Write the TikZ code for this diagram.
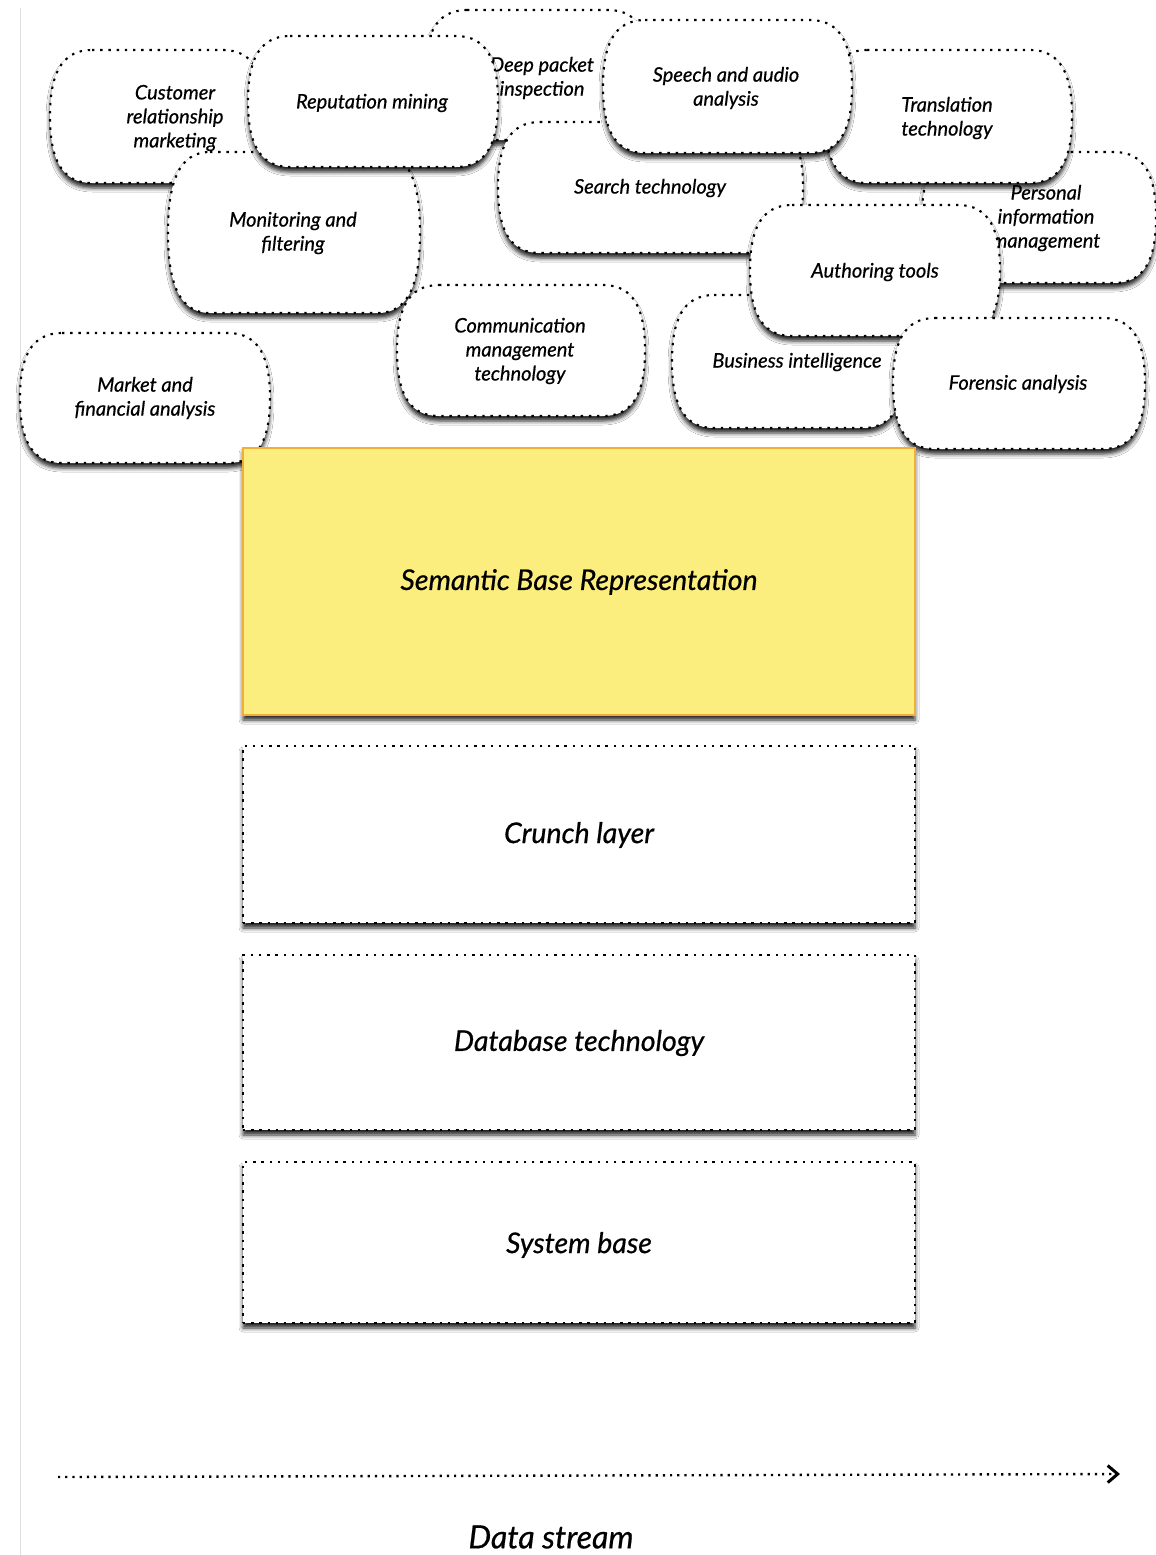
\documentclass[tikz,border=0pt]{standalone}
\usepackage{fontspec}
\setmainfont{Lato}
\newfontfamily\lblfont{Lato}[FakeBold=0.6]
\usetikzlibrary{shadows.blur,arrows.meta}
\definecolor{semfill}{HTML}{FBEE7E}
\definecolor{semdraw}{HTML}{F2AE35}
\tikzset{
  dotline/.style={draw=black, line width=2.1pt, dash pattern=on 2.4pt off 5.8pt},
  softshadow/.style={blur shadow={shadow xshift=0pt, shadow yshift=-5pt, shadow blur radius=4pt, shadow opacity=85}},
  cloudline/.style={dotline, fill=white, softshadow},
  cloudtext/.style={font=\lblfont\itshape\fontsize{20}{24}\selectfont, align=center, inner sep=0pt},
  layerbox/.style={dotline, fill=white, softshadow, minimum width=672pt, inner sep=0pt},
  layertext/.style={font=\lblfont\itshape\fontsize{28.5}{32}\selectfont, inner sep=0pt},
  semanticbox/.style={draw=semdraw, line width=1.5pt, fill=semfill, softshadow, minimum width=672pt, minimum height=267pt, inner sep=0pt}
}
\newcommand\cloudbox[8]{%
  \path[cloudline] ({#2+42},#3) -- ({#4-42},#3)
    .. controls ({#4-10},#3) and (#4,{#3+0.2*(#5-#3)}) .. (#4,{(#3+#5)/2})
    .. controls (#4,{#5-0.2*(#5-#3)}) and ({#4-10},#5) .. ({#4-42},#5)
    -- ({#2+42},#5)
    .. controls ({#2+10},#5) and (#2,{#5-0.2*(#5-#3)}) .. (#2,{(#3+#5)/2})
    .. controls (#2,{#3+0.2*(#5-#3)}) and ({#2+10},#3) .. ({#2+42},#3) -- cycle;
  \node[cloudtext] (#1) at (#6,#7) {#8};
}
\begin{document}
\begin{tikzpicture}[x=1pt,y=-1pt]
\path[fill=white] (0,0) rectangle (1156,1555);
\useasboundingbox (0,0) rectangle (1156,1555);
\draw[gray!25, line width=1pt] (20,8) -- (20,1555);
% clouds, back to front
\cloudbox{deep}{425}{10}{650}{140}{542}{78}{Deep packet\\inspection}
\cloudbox{crm}{50}{50}{265}{183}{175}{118}{Customer\\relationship\\marketing}
\cloudbox{pim}{922}{152}{1156}{283}{1046}{218}{Personal\\information\\management}
\cloudbox{trans}{825}{50}{1072}{183}{947}{118}{Translation\\technology}
\cloudbox{search}{498}{122}{803}{253}{650}{188}{Search technology}
\cloudbox{speech}{603}{20}{852}{153}{726}{88}{Speech and audio\\analysis}
\cloudbox{monitor}{168}{152}{420}{313}{293}{233}{Monitoring and\\filtering}
\cloudbox{reput}{248}{36}{498}{167}{372}{103}{Reputation mining}
\cloudbox{bi}{672}{295}{905}{428}{797}{362}{Business intelligence}
\cloudbox{author}{750}{205}{1000}{336}{875}{272}{Authoring tools}
\cloudbox{forensic}{893}{318}{1145}{449}{1018}{384}{Forensic analysis}
\cloudbox{comm}{397}{285}{645}{416}{520}{351}{Communication\\management\\technology}
\cloudbox{market}{20}{333}{270}{463}{145}{398}{Market and\\financial analysis}
% layers
\node[semanticbox] (sbr) at (579,581.5) {};
\node[layertext] (sbrtext) at (579,582) {Semantic Base Representation};
\node[layerbox, minimum height=177pt] (crunch) at (579,834.5) {};
\node[layertext] (crunchtext) at (579,835) {Crunch layer};
\node[layerbox, minimum height=175pt] (db) at (579,1042.5) {};
\node[layertext] (dbtext) at (579,1043) {Database technology};
\node[layerbox, minimum height=161pt] (sys) at (579,1242.5) {};
\node[layertext] (systext) at (579,1245) {System base};
% data stream
\coordinate (dsA) at (58,1477);
\coordinate (dsB) at (1120,1474);
\draw[line width=2.4pt, dash pattern=on 2.2pt off 5pt, -{Straight Barb[length=10pt, width=17pt, line width=3pt]}] (dsA) -- (dsB);
\node[font=\lblfont\itshape\fontsize{32}{36}\selectfont, inner sep=0pt] (dslabel) at (551,1537) {Data stream};
\end{tikzpicture}
\end{document}
